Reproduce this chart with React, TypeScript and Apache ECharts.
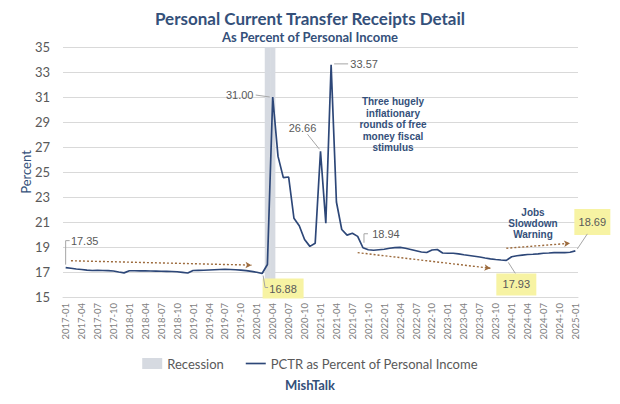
import React, { useEffect, useRef } from 'react';
import * as echarts from 'echarts';

// ---------- data ----------
const YEARS = ['2017', '2018', '2019', '2020', '2021', '2022', '2023', '2024', '2025'];
const MONTHS = ['01', '02', '03', '04', '05', '06', '07', '08', '09', '10', '11', '12'];

const PCTR_2017 = [17.35, 17.30, 17.24, 17.20, 17.15, 17.12, 17.13, 17.12, 17.11, 17.08, 17.00, 16.93];
const PCTR_2018 = [17.10, 17.10, 17.09, 17.09, 17.08, 17.07, 17.06, 17.05, 17.04, 17.02, 16.97, 16.92];
const PCTR_2019 = [17.12, 17.13, 17.14, 17.16, 17.18, 17.20, 17.21, 17.20, 17.18, 17.15, 17.11, 17.05];
const PCTR_2020 = [16.98, 16.88, 17.60, 31.00, 26.25, 24.55, 24.60, 21.30, 20.70, 19.60, 19.05, 19.30];
const PCTR_2021 = [26.66, 20.90, 33.57, 22.60, 20.40, 19.95, 20.10, 19.85, 18.94, 18.78, 18.74, 18.78];
const PCTR_2022 = [18.82, 18.90, 18.95, 18.97, 18.90, 18.80, 18.70, 18.60, 18.56, 18.76, 18.80, 18.52];
const PCTR_2023 = [18.50, 18.50, 18.45, 18.38, 18.32, 18.26, 18.20, 18.12, 18.05, 18.00, 17.96, 17.93];
const PCTR_2024 = [18.22, 18.30, 18.35, 18.40, 18.42, 18.45, 18.50, 18.52, 18.55, 18.56, 18.55, 18.58];
const PCTR_2025 = [18.69];

const PCTR = [
  ...PCTR_2017, ...PCTR_2018, ...PCTR_2019, ...PCTR_2020, ...PCTR_2021,
  ...PCTR_2022, ...PCTR_2023, ...PCTR_2024, ...PCTR_2025,
];
const CATEGORIES = YEARS.flatMap((y) => MONTHS.map((m) => `${y}-${m}`)).slice(0, PCTR.length);

const RECESSION_MONTHS = ['2020-03', '2020-04'];
const Y_MIN = 15;
const Y_MAX = 35;
const Y_STEP = 2;

const LABELED_MONTHS = ['2017-01', '2020-02', '2020-04', '2021-01', '2021-03', '2021-09', '2023-12', '2025-01'];
const HIGHLIGHTED_MONTHS = ['2020-02', '2023-12', '2025-01'];

// trend arrows: [start month, start value] -> [end month, end value]
const TREND_STARTS = [['2017-02', 17.9], ['2021-08', 18.55], ['2023-12', 18.9]];
const TREND_ENDS = [['2019-12', 17.55], ['2023-09', 17.3], ['2024-12', 19.3]];

const TITLE = 'Personal Current Transfer Receipts Detail';
const SUBTITLE = 'As Percent of Personal Income';
const SERIES_NAME = 'PCTR as Percent of Personal Income';
const RECESSION_NAME = 'Recession';
const NOTE_STIMULUS = 'Three hugely\ninflationary\nrounds of free\nmoney fiscal\nstimulus';
const NOTE_JOBS = 'Jobs\nSlowdown\nWarning';
const SOURCE = 'MishTalk';

// ---------- layout (label offsets from their data point, in px) ----------
const LABEL_LAYOUT: Record<string, { dx: number; dy: number; leader: number[][]; w?: number; h?: number }> = {
  '2017-01': { dx: 19, dy: -27, leader: [[0, -3], [0, -27], [4, -27]] },
  '2020-02': { dx: 21, dy: 15, leader: [[1, 2], [3, 14], [6, 14]], w: 41, h: 20 },
  '2020-04': { dx: -33, dy: -2, leader: [[-17, -2], [-3, 0]] },
  '2021-01': { dx: -18, dy: -23, leader: [[-13, -17], [-1, -2]] },
  '2021-03': { dx: 33, dy: -1, leader: [[3, -1], [17, -1]] },
  '2021-09': { dx: 23, dy: -14, leader: [[1, -5], [1, -14], [5, -14]] },
  '2023-12': { dx: 10, dy: 24, leader: [[2, 2], [9, 13]], w: 40, h: 22 },
  '2025-01': { dx: 17, dy: -29, leader: [[2, -2], [12, -17]], w: 36, h: 26 },
};

const TITLE_COLOR = '#34507A';
const LINE_COLOR = '#2D4778';
const GRAY_TEXT = '#595959';
const FONT = 'Lato, "Open Sans", sans-serif';
const NOTE_FONT = '"Liberation Sans", Arial, sans-serif';

export default function App() {
  const ref = useRef<HTMLDivElement>(null);

  useEffect(() => {
    document.body.style.margin = '0';
    if (!ref.current) return;
    const chart = echarts.init(ref.current, undefined, { renderer: 'svg' });

    const recessionData = CATEGORIES.map((c) => (RECESSION_MONTHS.includes(c) ? Y_MAX : null));

    const trendData = TREND_STARTS.map((s, i) => [
      { coord: [s[0], s[1]] },
      { coord: [TREND_ENDS[i][0], TREND_ENDS[i][1]] },
    ]);

    chart.setOption({
      animation: false,
      backgroundColor: '#ffffff',
      title: [
        {
          text: TITLE,
          left: 'center',
          top: 5,
          textStyle: { fontFamily: FONT, fontSize: 17, fontWeight: 'bold', color: TITLE_COLOR },
        },
        {
          text: SUBTITLE,
          left: 'center',
          top: 25,
          textStyle: { fontFamily: FONT, fontSize: 13, fontWeight: 'bold', color: TITLE_COLOR },
        },
        {
          text: SOURCE,
          left: 'center',
          top: 373,
          textStyle: { fontFamily: FONT, fontSize: 13, fontWeight: 'bold', color: TITLE_COLOR },
        },
      ],
      legend: {
        top: 352,
        left: 'center',
        itemGap: 22,
        itemWidth: 20,
        itemHeight: 11,
        textStyle: { fontFamily: FONT, fontSize: 13, color: GRAY_TEXT },
        data: [
          { name: RECESSION_NAME, icon: 'rect' },
          { name: SERIES_NAME, icon: 'path://M0,0H24V2H0Z' },
        ],
      },
      grid: { left: 63, right: 42, top: 47, bottom: 107 },
      xAxis: {
        type: 'category',
        data: CATEGORIES,
        boundaryGap: true,
        axisLine: { show: true, lineStyle: { color: '#D9D9D9' } },
        axisTick: { show: false },
        axisLabel: {
          interval: 2,
          rotate: 90,
          margin: 6,
          fontFamily: FONT,
          fontSize: 9.5,
          color: '#7F7F7F',
        },
        splitLine: { show: false },
      },
      yAxis: {
        type: 'value',
        min: Y_MIN,
        max: Y_MAX,
        interval: Y_STEP,
        name: 'Percent',
        nameLocation: 'middle',
        nameGap: 31,
        nameMoveOverlap: false,
        nameTextStyle: { fontFamily: FONT, fontSize: 13, color: TITLE_COLOR },
        axisLine: { show: false },
        axisTick: { show: false },
        axisLabel: { fontFamily: FONT, fontSize: 13, color: GRAY_TEXT, margin: 13 },
        splitLine: { lineStyle: { color: '#D9D9D9', width: 1 } },
      },
      series: [
        {
          name: RECESSION_NAME,
          type: 'bar',
          data: recessionData,
          barWidth: '100%',
          barGap: '-100%',
          barCategoryGap: '0%',
          itemStyle: { color: '#D6DAE1' },
          silent: true,
          z: 1,
        },
        {
          name: SERIES_NAME,
          type: 'line',
          data: PCTR,
          symbol: 'none',
          lineStyle: { color: LINE_COLOR, width: 1.7 },
          itemStyle: { color: LINE_COLOR },
          z: 3,
          markLine: {
            silent: true,
            symbol: ['none', 'arrow'],
            symbolSize: [5, 6],
            label: { show: false },
            lineStyle: { color: '#9C6A3C', type: [2, 2], width: 1.4 },
            data: trendData,
          },
        },
      ],
    });

    const graphics: any[] = [];
    LABELED_MONTHS.forEach((m) => {
      const idx = CATEGORIES.indexOf(m);
      const val = PCTR[idx];
      const p = chart.convertToPixel({ gridIndex: 0 }, [idx, val]) as number[];
      const lay = LABEL_LAYOUT[m];
      const cx = p[0] + lay.dx;
      const cy = p[1] + lay.dy;
      if (HIGHLIGHTED_MONTHS.includes(m)) {
        const w = lay.w || 40;
        const h = lay.h || 20;
        graphics.push({
          type: 'rect',
          shape: { x: cx - w / 2, y: cy - h / 2, width: w, height: h },
          style: { fill: '#F7F3A3' },
          z: 10,
        });
      }
      graphics.push({
        type: 'polyline',
        shape: { points: lay.leader.map((d) => [p[0] + d[0], p[1] + d[1]]) },
        style: { stroke: '#A6A6A6', lineWidth: 1, fill: null },
        z: 11,
      });
      graphics.push({
        type: 'text',
        x: cx,
        y: cy,
        style: {
          text: val.toFixed(2),
          fill: GRAY_TEXT,
          fontFamily: NOTE_FONT,
          fontSize: 11,
          align: 'center',
          verticalAlign: 'middle',
        },
        z: 12,
      });
    });

    graphics.push({
      type: 'text',
      x: 393,
      y: 96,
      style: {
        text: NOTE_STIMULUS,
        fill: TITLE_COLOR,
        fontFamily: NOTE_FONT,
        fontSize: 10,
        fontWeight: 'bold',
        lineHeight: 11.5,
        align: 'center',
        verticalAlign: 'top',
      },
      z: 12,
    });
    graphics.push({
      type: 'text',
      x: 533,
      y: 207,
      style: {
        text: NOTE_JOBS,
        fill: TITLE_COLOR,
        fontFamily: NOTE_FONT,
        fontSize: 10,
        fontWeight: 'bold',
        lineHeight: 11,
        align: 'center',
        verticalAlign: 'top',
      },
      z: 12,
    });

    chart.setOption({ graphic: graphics });

    return () => chart.dispose();
  }, []);

  return <div ref={ref} style={{ width: 620, height: 404 }} />;
}
